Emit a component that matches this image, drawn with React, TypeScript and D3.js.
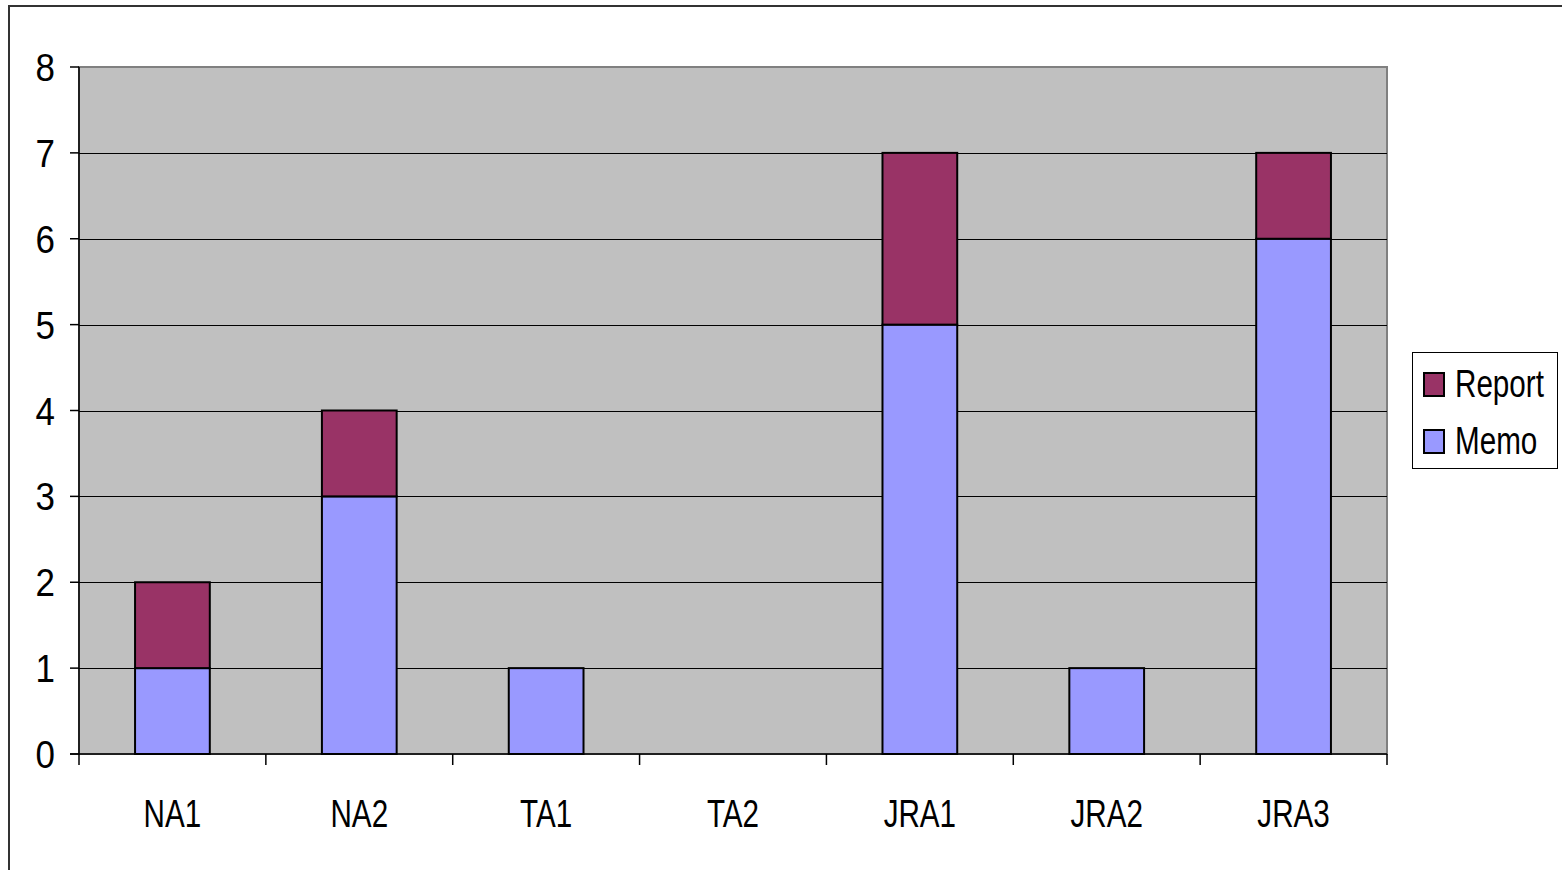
import { useRef, useEffect } from 'react';
import * as d3 from 'd3';

const categories = ['NA1', 'NA2', 'TA1', 'TA2', 'JRA1', 'JRA2', 'JRA3'];
const memo = [1, 3, 1, 0, 5, 1, 6];
const report = [1, 1, 0, 0, 2, 0, 1];
const yTicks = [0, 1, 2, 3, 4, 5, 6, 7, 8];
const seriesNames = ['Report', 'Memo'];
const seriesColors = ['#993366', '#9999FF'];

const FONT = '"Liberation Sans", Arial, sans-serif';
const FONT_SIZE = 38;
const SQUEEZE = 0.78; // the source text is horizontally condensed

const App = () => {
  const svgRef = useRef(null);
  const width = 1562;
  const height = 870;
  const plot = { left: 79, top: 67, right: 1387, bottom: 754 };

  useEffect(() => {
    const svg = d3.select(svgRef.current);
    svg.selectAll('*').remove();

    // narrow text helper
    const label = (
      g: d3.Selection<any, any, any, any>,
      tx: number,
      ty: number,
      txt: string,
      anchor: string,
      sx = SQUEEZE
    ) =>
      g.append('text')
        .attr('transform', `translate(${tx},${ty}) scale(${sx},1)`)
        .attr('text-anchor', anchor)
        .attr('font-family', FONT)
        .attr('font-size', FONT_SIZE)
        .attr('fill', 'black')
        .text(txt);

    // outer chart border
    svg.append('rect')
      .attr('x', 9).attr('y', 6)
      .attr('width', width + 20).attr('height', height + 20)
      .attr('fill', 'white')
      .attr('stroke', '#333').attr('stroke-width', 2);

    const x = d3.scaleBand<string>()
      .domain(categories)
      .range([plot.left, plot.right])
      .padding(0);
    const barW = x.bandwidth() * 0.4;

    const y = d3.scaleLinear().domain([0, 8]).range([plot.bottom, plot.top]);

    // plot background
    svg.append('rect')
      .attr('x', plot.left).attr('y', plot.top)
      .attr('width', plot.right - plot.left).attr('height', plot.bottom - plot.top)
      .attr('fill', '#C0C0C0')
      .attr('stroke', '#808080').attr('stroke-width', 2);

    // gridlines
    svg.append('g')
      .selectAll('line')
      .data(yTicks.filter((d) => d > 0 && d < 8))
      .join('line')
      .attr('x1', plot.left).attr('x2', plot.right)
      .attr('y1', (d) => Math.round(y(d)) + 0.5).attr('y2', (d) => Math.round(y(d)) + 0.5)
      .attr('stroke', 'black').attr('stroke-width', 1);

    // stacked bars
    const stacked = categories.map((c, i) => ({ c, memo: memo[i], report: report[i] }));
    const bars = svg.append('g');
    stacked.forEach((d) => {
      const x0 = (x(d.c) as number) + (x.bandwidth() - barW) / 2;
      if (d.memo > 0) {
        bars.append('rect')
          .attr('x', x0).attr('y', y(d.memo))
          .attr('width', barW).attr('height', y(0) - y(d.memo))
          .attr('fill', seriesColors[1])
          .attr('stroke', 'black').attr('stroke-width', 2);
      }
      if (d.report > 0) {
        bars.append('rect')
          .attr('x', x0).attr('y', y(d.memo + d.report))
          .attr('width', barW).attr('height', y(d.memo) - y(d.memo + d.report))
          .attr('fill', seriesColors[0])
          .attr('stroke', 'black').attr('stroke-width', 2);
      }
    });

    // axes lines
    svg.append('line')
      .attr('x1', plot.left).attr('x2', plot.left)
      .attr('y1', plot.top).attr('y2', plot.bottom)
      .attr('stroke', 'black').attr('stroke-width', 1.5);
    svg.append('line')
      .attr('x1', plot.left - 9).attr('x2', plot.right)
      .attr('y1', plot.bottom).attr('y2', plot.bottom)
      .attr('stroke', 'black').attr('stroke-width', 1.5);

    // y ticks + labels
    const yAxis = svg.append('g');
    yAxis.selectAll('line')
      .data(yTicks)
      .join('line')
      .attr('x1', plot.left - 9).attr('x2', plot.left)
      .attr('y1', (d) => y(d)).attr('y2', (d) => y(d))
      .attr('stroke', 'black').attr('stroke-width', 1.5);
    yTicks.forEach((d) => label(yAxis, 55, y(d) + 14, String(d), 'end', 0.92));

    // x ticks + labels
    const boundaries = [...categories.map((c) => x(c) as number), plot.right];
    const xAxis = svg.append('g');
    xAxis.selectAll('line')
      .data(boundaries)
      .join('line')
      .attr('x1', (d) => d).attr('x2', (d) => d)
      .attr('y1', plot.bottom).attr('y2', plot.bottom + 11)
      .attr('stroke', 'black').attr('stroke-width', 1.5);
    categories.forEach((c) =>
      label(xAxis, (x(c) as number) + x.bandwidth() / 2, 827, c, 'middle')
    );

    // legend
    const lg = svg.append('g');
    lg.append('rect')
      .attr('x', 1412.5).attr('y', 352.5)
      .attr('width', 145).attr('height', 116)
      .attr('fill', 'white').attr('stroke', 'black').attr('stroke-width', 1);
    seriesNames.forEach((name, i) => {
      const base = 397 + i * 57;
      lg.append('rect')
        .attr('x', 1424).attr('y', base - 24)
        .attr('width', 20).attr('height', 23)
        .attr('fill', seriesColors[i])
        .attr('stroke', 'black').attr('stroke-width', 2);
      label(lg, 1455, base, name, 'start');
    });
  }, []);

  return (
    <svg
      ref={svgRef}
      width={width}
      height={height}
      style={{ position: 'absolute', left: 0, top: 0, display: 'block' }}
    />
  );
};

export default App;
